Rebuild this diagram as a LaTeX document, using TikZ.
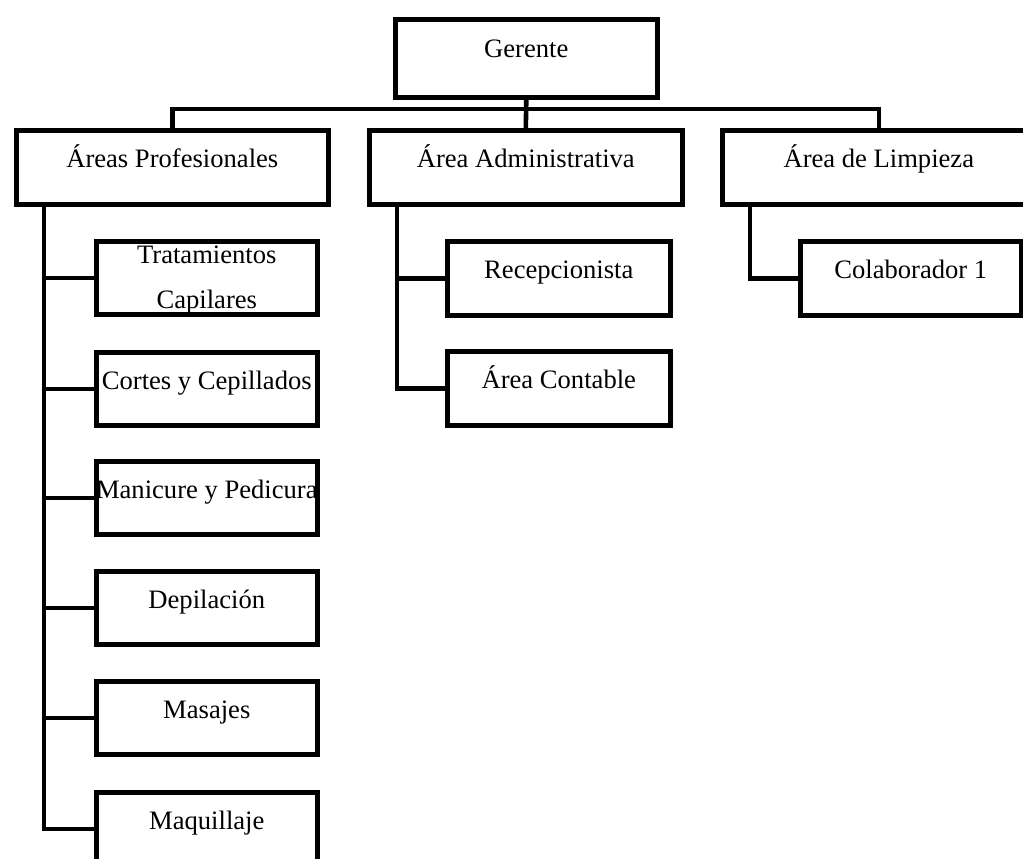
\documentclass[tikz,border=0pt]{standalone}
\usepackage{fontspec}
\setmainfont{Liberation Serif}
\begin{document}
\begin{tikzpicture}[x=1pt,y=-1pt,
  box/.style={draw=black,line width=4.6pt,fill=white,inner sep=0pt,anchor=north west,minimum height=#1},
  box/.default=74pt,
  lbl/.style={anchor=base,inner sep=0pt,font=\fontsize{26.6}{45}\selectfont,align=center},
  conn/.style={draw=black,line width=4.6pt}]
\useasboundingbox[fill=white] (0,0) rectangle (1023,859);
% top level
\node[box=78pt,minimum width=262pt] (G) at (393,17) {};
\node[lbl] (tG) at ([yshift=-41pt]G.north) {Gerente};
% second level
\node[box,minimum width=312pt] (L1) at (14,128) {};
\node[box,minimum width=313pt] (L2) at (367,128) {};
\node[box,minimum width=313pt] (L3) at (720,128) {};
\node[lbl] (tL1) at ([yshift=-39pt]L1.north) {Áreas Profesionales};
\node[lbl] (tL2) at ([yshift=-39pt]L2.north) {Área Administrativa};
\node[lbl] (tL3) at ([yshift=-39pt]L3.north) {Área de Limpieza};
\coordinate (bus) at (0,109);
\draw[conn] (G.south) -- (L2.north);
\draw[conn] (L1.north) -- (L1.north |- bus) -- (L3.north |- bus) -- (L3.north);
% professional areas
\node[box=73pt,minimum width=221pt] (P1) at (94,239) {};
\node[box=73pt,minimum width=221pt] (P2) at (94,350) {};
\node[box=73pt,minimum width=221pt] (P3) at (94,459) {};
\node[box=73pt,minimum width=221pt] (P4) at (94,569) {};
\node[box=73pt,minimum width=221pt] (P5) at (94,679) {};
\node[box=73pt,minimum width=221pt] (P6) at (94,790) {};
\node[lbl] (tP1) at ([yshift=-69pt]P1.north) {Tratamientos\\Capilares};
\node[lbl] (tP2) at ([yshift=-39pt]P2.north) {Cortes y Cepillados};
\node[lbl] (tP3) at ([yshift=-39pt]P3.north) {Manicure y Pedicura};
\node[lbl] (tP4) at ([yshift=-39pt]P4.north) {Depilación};
\node[lbl] (tP5) at ([yshift=-39pt]P5.north) {Masajes};
\node[lbl] (tP6) at ([yshift=-39pt]P6.north) {Maquillaje};
\coordinate (pt) at (44,0);
\draw[conn] (L1.south -| pt) |- (P6.west);
\foreach \i in {1,...,5} {\draw[conn] (P\i.west) -- (P\i.west -| pt);}
% administrative
\node[box,minimum width=223pt] (A1) at (445,239) {};
\node[box,minimum width=223pt] (A2) at (445,349) {};
\node[lbl] (tA1) at ([yshift=-39pt]A1.north) {Recepcionista};
\node[lbl] (tA2) at ([yshift=-39pt]A2.north) {Área Contable};
\coordinate (at) at (397,0);
\draw[conn] (L2.south -| at) |- (A2.west);
\draw[conn] (A1.west) -- (A1.west -| at);
% cleaning
\node[box,minimum width=221pt] (C1) at (798,239) {};
\node[lbl] (tC1) at ([yshift=-39pt]C1.north) {Colaborador 1};
\coordinate (ct) at (750,0);
\draw[conn] (L3.south -| ct) |- (C1.west);
\end{tikzpicture}
\end{document}
